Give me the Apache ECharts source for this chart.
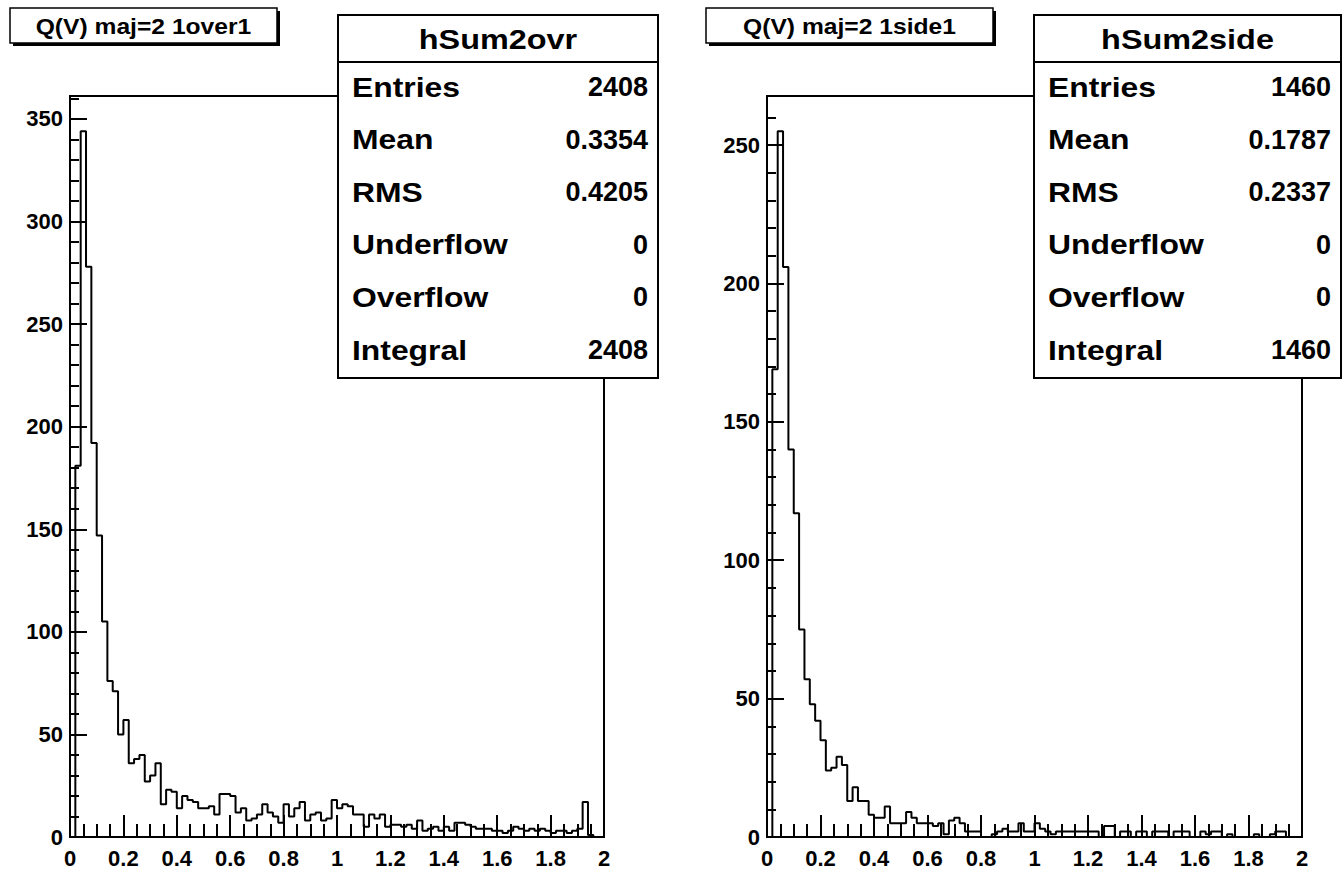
<!DOCTYPE html>
<html><head><meta charset="utf-8">
<script src="https://cdn.jsdelivr.net/npm/echarts@6/dist/echarts.min.js"></script>
<style>html,body{margin:0;padding:0;background:#fff}#c{width:1342px;height:872px}</style>
</head><body><div id="c"></div>
<script>
// ---- data ----
const binWidth = 0.02;
const xMin = 0, xMax = 2;
const leftCounts = [
  0,181,344,278,192,147,105,76,71,50,
  57,36,38,40,27,30,36,16,23,22,
  14,20,18,17,14,14,15,11,21,21,
  20,12,14,8,9,11,16,12,10,7,
  16,10,14,17,8,11,12,8,9,18,
  14,16,15,11,11,5,11,9,11,5,
  6,6,5,6,4,8,3,4,5,3,
  5,3,7,7,6,5,4,4,4,3,
  3,2,3,5,4,3,4,3,4,3,
  2,3,3,2,3,4,17,1,0,0
];
const rightCounts = [
  0,169,255,206,140,117,75,57,48,42,
  35,24,25,29,26,13,18,13,13,8,
  7,7,11,5,5,5,9,7,5,5,
  5,4,5,1,6,7,5,2,2,2,
  0,0,1,2,3,2,2,5,2,2,
  5,3,2,1,2,2,2,2,2,2,
  2,2,0,4,4,0,2,2,0,2,
  2,0,2,2,2,0,2,2,2,0,
  0,2,1,2,2,0,1,0,0,0,
  0,1,0,0,1,2,2,0,0,0
];
const xTickLabels = ['0','0.2','0.4','0.6','0.8','1','1.2','1.4','1.6','1.8','2'];
const xTickStep = 0.2;
const yTickStep = 50;
const yMinorStep = 10;
const titles = ['Q(V) maj=2 1over1', 'Q(V) maj=2 1side1'];
const statNames = ['hSum2ovr', 'hSum2side'];
const statLabels = ['Entries','Mean','RMS','Underflow','Overflow','Integral'];
const leftStatValues = ['2408','0.3354','0.4205','0','0','2408'];
const rightStatValues = ['1460','0.1787','0.2337','0','0','1460'];

// ---- build ----
function stepData(counts){
  const d = counts.map((c,i)=>[+(xMin+i*binWidth).toFixed(4), c]);
  d.push([xMax, counts[counts.length-1]]);
  return d;
}
const FONT = 'Liberation Sans, Arial, Helvetica, sans-serif';
const grids = [
  {left:70, top:96, width:534, height:741},
  {left:767, top:96, width:535, height:741}
];
const datasets = [leftCounts, rightCounts];
const lineBlack = {color:'#000', width:2};

const option = {
  animation:false,
  backgroundColor:'#fff',
  grid: grids.map(g=>Object.assign({show:true, borderColor:'#000', borderWidth:2, backgroundColor:'transparent'}, g)),
  xAxis: grids.map((g,i)=>({
    type:'value', gridIndex:i, position:'bottom', min:xMin, max:xMax, interval:xTickStep,
    axisLine:{show:true, lineStyle:lineBlack},
    axisTick:{show:true, inside:true, length:22, lineStyle:lineBlack},
    minorTick:{show:true, splitNumber:4, length:13, lineStyle:lineBlack},
    splitLine:{show:false}, minorSplitLine:{show:false},
    axisLabel:{margin:10, color:'#000', fontFamily:FONT, fontWeight:'bold', fontSize:22,
      formatter:v=>xTickLabels[Math.round(v/xTickStep)] ?? ''}
  })),
  yAxis: [].concat(...grids.map((g,i)=>{
    const ymax = Math.max(...datasets[i])*1.05;
    const majors = [];
    for (let v = 0; v <= ymax; v += yTickStep) majors.push(v);
    return [{
      // labelled axis, short ticks every yMinorStep
      type:'value', gridIndex:i, position:'left', min:0, max:ymax, interval:yMinorStep,
      axisLine:{show:true, lineStyle:lineBlack},
      axisTick:{show:true, inside:true, length:9, lineStyle:lineBlack},
      splitLine:{show:false},
      axisLabel:{margin:7, color:'#000', fontFamily:FONT, fontWeight:'bold', fontSize:22,
        customValues: majors, formatter:v=>String(Math.round(v))}
    },{
      // long ticks at major values
      type:'value', gridIndex:i, position:'left', offset:0, min:0, max:ymax, interval:yTickStep,
      axisLine:{show:false},
      axisTick:{show:true, inside:true, length:17, customValues: majors, lineStyle:lineBlack},
      splitLine:{show:false}, axisLabel:{show:false}
    }];
  })),
  series: datasets.map((c,i)=>({
    type:'line', step:'end', xAxisIndex:i, yAxisIndex:i*2, data:stepData(c),
    symbol:'none', lineStyle:{color:'#000', width:2}, z:3
  })),
  graphic: []
};

function titleBox(x,y,w,h,text){
  return [
    {type:'rect', shape:{x:x+3,y:y+3,width:w,height:h}, style:{fill:'#000'}, z:100},
    {type:'rect', shape:{x:x,y:y,width:w,height:h}, style:{fill:'#fff', stroke:'#000', lineWidth:1.5}, z:101},
    {type:'text', x:x+w/2, y:y+h/2+1, scaleX:1.12, style:{text:text, fill:'#000', font:'bold 22px '+FONT, align:'center', verticalAlign:'middle'}, z:102}
  ];
}
function statsBox(x,y,w,h,name,labels,values){
  const els = [
    {type:'rect', shape:{x:x,y:y,width:w,height:h}, style:{fill:'#fff', stroke:'#000', lineWidth:2}, z:100},
    {type:'line', shape:{x1:x,y1:y+47,x2:x+w,y2:y+47}, style:{stroke:'#000', lineWidth:2}, z:101},
    {type:'text', x:x+w/2, y:y+24, scaleX:1.2, style:{text:name, fill:'#000', font:'bold 27px '+FONT, align:'center', verticalAlign:'middle'}, z:102}
  ];
  labels.forEach((l,i)=>{
    const cy = y+72+i*52.6;
    els.push({type:'text', x:x+14, y:cy, scaleX:1.18, style:{text:l, fill:'#000', font:'bold 27px '+FONT, align:'left', verticalAlign:'middle'}, z:102});
    els.push({type:'text', x:x+w-10, y:cy, scaleX:1.0, style:{text:values[i], fill:'#000', font:'bold 27px '+FONT, align:'right', verticalAlign:'middle'}, z:102});
  });
  return els;
}
option.graphic = [].concat(
  titleBox(10,8,267,35,titles[0]),
  titleBox(706,8,287,35,titles[1]),
  statsBox(338,15,320,363,statNames[0],statLabels,leftStatValues),
  statsBox(1034,15,307,363,statNames[1],statLabels,rightStatValues)
);

const chart = echarts.init(document.getElementById('c'), null, {renderer:'svg'});
chart.setOption(option);
</script>
</body></html>
